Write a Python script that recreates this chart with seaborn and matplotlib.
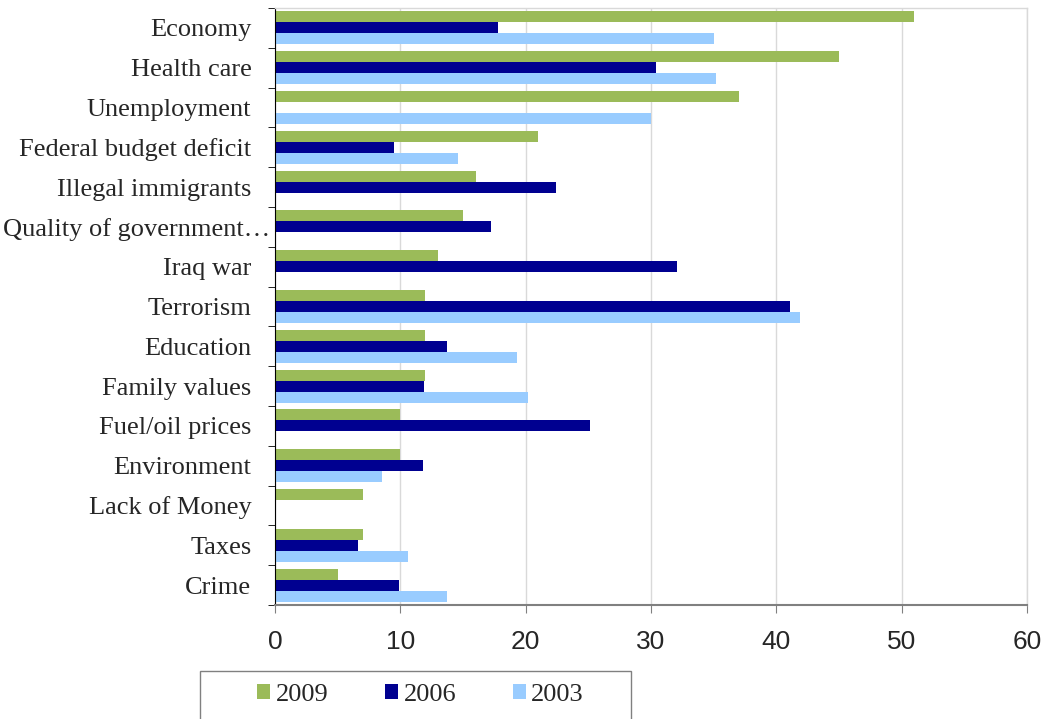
import numpy as np
import pandas as pd
import matplotlib
matplotlib.use('Agg')
import matplotlib.pyplot as plt
import matplotlib.transforms as mtransforms
from matplotlib.patches import Rectangle
import seaborn as sns

# Datos
categorias = ["Economy", "Health care", "Unemployment", "Federal budget deficit",
              "Illegal immigrants", "Quality of government\u2026", "Iraq war",
              "Terrorism", "Education", "Family values", "Fuel/oil prices",
              "Environment", "Lack of Money", "Taxes", "Crime"]
anios = ["2009", "2006", "2003"]
v2009 = [51, 45, 37, 21, 16, 15, 13, 12, 12, 12, 10, 10, 7, 7, 5]
v2006 = [17.8, 30.4, np.nan, 9.5, 22.4, 17.2, 32.1, 41.1, 13.7, 11.9, 25.1, 11.8, np.nan, 6.6, 9.9]
v2003 = [35, 35.2, 30, 14.6, np.nan, np.nan, np.nan, 41.9, 19.3, 20.2, np.nan, 8.5, np.nan, 10.6, 13.7]
colores = ["#9BBB59", "#000090", "#99CCFF"]

df = pd.concat([
    pd.DataFrame({'Issue': categorias, 'Value': v, 'Year': a})
    for a, v in zip(anios, [v2009, v2006, v2003])
]).dropna()

sns.set_style('white')
plt.rcParams['font.family'] = ['Liberation Serif', 'DejaVu Serif']

fig = plt.figure(figsize=(10.47, 7.19), dpi=100)
ax = fig.add_axes([275 / 1047, 1 - 605 / 719, 752 / 1047, 597 / 719])

sns.barplot(data=df, y='Issue', x='Value', hue='Year', order=categorias,
            hue_order=anios, palette=colores, saturation=1, orient='h', width=0.83,
            errorbar=None, linewidth=0, ax=ax)

handles, labels = ax.get_legend_handles_labels()
ax.get_legend().remove()

ax.set_xlim(0, 60)
ax.set_ylim(14.5, -0.5)
ax.set_xticks(range(0, 61, 10))
ax.set_xlabel('')
ax.set_ylabel('')
ax.grid(axis='x', color='#d9d9d9', linewidth=1)
ax.grid(axis='y', visible=False)
ax.set_axisbelow(True)

for s in ['top', 'right']:
    ax.spines[s].set_color('#d9d9d9')
    ax.spines[s].set_linewidth(1)
ax.spines['left'].set_color('black')
ax.spines['bottom'].set_color('#808080')
ax.spines['bottom'].set_linewidth(1.5)

# Marcas del eje y entre categorías
ax.set_yticks(np.arange(-0.5, 15, 1), minor=True)
ax.tick_params(axis='y', which='major', length=0, pad=17, labelsize=19)
ax.tick_params(axis='y', which='minor', length=5, color='black', direction='out', left=True)
ax.tick_params(axis='x', which='major', length=6, color='#808080', direction='out',
               bottom=True, pad=12, labelsize=19)
for lbl in ax.get_xticklabels():
    lbl.set_family(['Liberation Sans', 'DejaVu Sans'])

# La etiqueta truncada sobresale hacia la derecha como en el original
lbl = ax.get_yticklabels()[5]
lbl.set_transform(lbl.get_transform() + mtransforms.ScaledTranslation(0.19, 0, fig.dpi_scale_trans))

# Leyenda abajo con su recuadro
fig.patches.append(Rectangle((200 / 1047, -0.02), 431 / 1047, 0.02 + 48 / 719,
                             transform=fig.transFigure, fill=False,
                             edgecolor='#808080', linewidth=1))
fig.legend(handles, labels, loc='center left',
           bbox_to_anchor=(257 / 1047, 1 - 695 / 719),
           ncol=3, fontsize=19, frameon=False,
           handlelength=0.5, handleheight=0.5, handletextpad=0.2,
           columnspacing=2.15, borderpad=0, borderaxespad=0)

fig.savefig('out.png', dpi=100)
